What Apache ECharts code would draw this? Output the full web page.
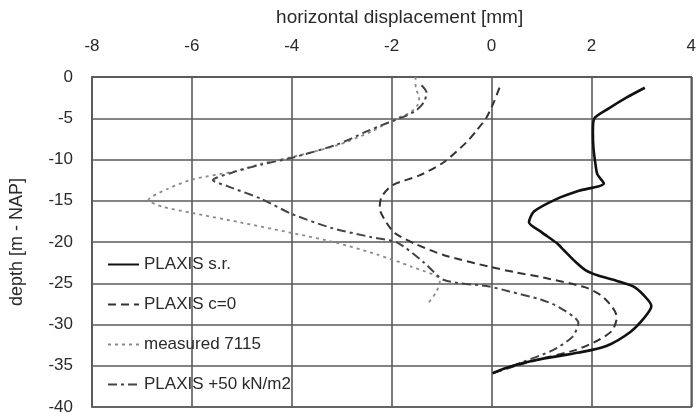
<!DOCTYPE html>
<html>
<head>
<meta charset="utf-8">
<script src="https://cdn.jsdelivr.net/npm/echarts@6/dist/echarts.min.js"></script>
<style>
html,body{margin:0;padding:0;background:#fff;}
#chart{width:699px;height:416px;}
</style>
</head>
<body>
<div id="chart"></div>
<script>
// Axis settings
const xMin = -8, xMax = 4, xStep = 2;
const yMin = -40, yMax = 0, yStep = 5;
const xTitle = 'horizontal displacement [mm]';
const yTitle = 'depth [m - NAP]';

// Series names
const seriesNames = ['PLAXIS s.r.', 'PLAXIS c=0', 'measured 7115', 'PLAXIS +50 kN/m2'];

// PLAXIS s.r.
const srDisp  = [3.07, 2.7, 2.35, 2.06, 2.03, 2.04, 2.08, 2.12, 2.25, 1.75, 1.3, 0.85, 0.75, 1.0, 1.3, 1.45, 1.68, 1.88, 2.15, 2.5, 2.87, 3.13, 3.2, 3.07, 2.78, 2.3, 1.75, 0.89, 0.38, 0.02];
const srDepth = [-1.3, -2.5, -3.8, -5.0, -6.5, -8.5, -10.5, -11.8, -12.9, -13.8, -14.8, -16.3, -17.6, -18.8, -20.1, -21.0, -22.4, -23.4, -24.1, -24.7, -25.5, -27.0, -27.8, -29.1, -30.9, -32.6, -33.4, -34.3, -35.1, -35.9];

// PLAXIS c=0
const c0Disp  = [0.16, 0.05, -0.1, -0.3, -0.5, -0.95, -1.43, -1.98, -2.2, -2.24, -2.15, -1.94, -1.5, -0.95, -0.04, 0.5, 1.03, 1.88, 2.2, 2.42, 2.51, 2.42, 2.14, 1.68, 1.1, 0.5, 0.02];
const c0Depth = [-1.3, -3.0, -4.9, -6.5, -7.9, -10.3, -11.9, -13.1, -14.5, -15.9, -17.2, -18.9, -20.3, -21.6, -23.0, -23.7, -24.3, -25.5, -26.5, -27.9, -29.1, -30.7, -31.9, -33.1, -34.0, -35.0, -35.9];

// measured 7115
const msDisp  = [-1.52, -1.52, -1.45, -1.47, -1.62, -1.94, -2.4, -3.1, -4.0, -4.6, -5.2, -5.98, -6.5, -6.87, -6.6, -5.98, -5.05, -4.0, -3.1, -2.3, -1.6, -1.03, -1.1, -1.29];
const msDepth = [0.0, -1.3, -2.4, -3.3, -4.3, -5.1, -6.6, -8.3, -9.7, -10.5, -11.5, -12.4, -13.6, -14.9, -15.7, -16.5, -17.6, -18.9, -20.1, -21.5, -23.0, -24.6, -26.0, -27.6];

// PLAXIS +50 kN/m2
const p50Disp  = [-1.4, -1.3, -1.35, -1.5, -1.75, -2.1, -2.5, -3.1, -4.0, -4.6, -5.2, -5.58, -5.3, -4.6, -4.0, -3.2, -2.42, -1.88, -1.35, -0.95, -0.04, 0.36, 1.0, 1.35, 1.74, 1.62, 1.23, 0.6, 0.02];
const p50Depth = [-1.0, -1.9, -3.0, -4.0, -4.8, -5.6, -6.6, -8.2, -9.8, -10.6, -11.6, -12.5, -13.2, -14.8, -16.6, -18.3, -19.4, -20.1, -22.5, -24.6, -25.4, -26.0, -27.0, -27.9, -29.8, -31.5, -33.1, -34.6, -35.9];

function pairs(xs, ys) { return xs.map((x, i) => [x, ys[i]]); }

const textColor = '#2a2a2a';
const gridColor = '#5a5a5a';
const fontFam = '"Liberation Sans", Arial, sans-serif';

const chart = echarts.init(document.getElementById('chart'), null, {renderer: 'canvas'});
chart.setOption({
  animation: false,
  backgroundColor: '#fff',
  grid: {left: 91, right: 2, top: 77, bottom: 9, show: true, borderColor: gridColor, borderWidth: 1.6},
  xAxis: {
    type: 'value', position: 'top', min: xMin, max: xMax, interval: xStep,
    name: xTitle, nameLocation: 'middle', nameGap: 50,
    nameTextStyle: {fontSize: 19, color: textColor, fontFamily: fontFam, padding: [0, 0, 0, 16]},
    axisLine: {show: true, onZero: false, lineStyle: {color: gridColor, width: 1.6}},
    axisTick: {show: false},
    axisLabel: {fontSize: 17, color: textColor, fontFamily: fontFam, margin: 22},
    splitLine: {show: true, lineStyle: {color: gridColor, width: 1.6}}
  },
  yAxis: {
    type: 'value', min: yMin, max: yMax, interval: yStep,
    name: yTitle, nameLocation: 'middle', nameGap: 66,
    nameTextStyle: {fontSize: 18, color: textColor, fontFamily: fontFam},
    axisLine: {show: true, onZero: false, lineStyle: {color: gridColor, width: 1.6}},
    axisTick: {show: false},
    axisLabel: {fontSize: 17, color: textColor, fontFamily: fontFam, margin: 19},
    splitLine: {show: true, lineStyle: {color: gridColor, width: 1.6}}
  },
  legend: {
    orient: 'vertical', left: 107, top: 256, padding: 0,
    itemWidth: 31, itemHeight: 14, itemGap: 23,
    itemStyle: {color: 'transparent', borderColor: 'transparent', borderWidth: 0},
    textStyle: {fontSize: 17, color: textColor, fontFamily: fontFam, lineHeight: 17},
    data: seriesNames
  },
  series: [
    {name: seriesNames[0], type: 'line', data: pairs(srDisp, srDepth), symbol: 'none', smooth: 0.25,
     lineStyle: {color: '#111', width: 2.6, type: 'solid'}, itemStyle: {color: '#111'}, z: 5},
    {name: seriesNames[1], type: 'line', data: pairs(c0Disp, c0Depth), symbol: 'none', smooth: 0.25,
     lineStyle: {color: '#333', width: 2, type: [8, 5]}, itemStyle: {color: '#333'}, z: 4},
    {name: seriesNames[2], type: 'line', data: pairs(msDisp, msDepth), symbol: 'none', smooth: 0.25,
     lineStyle: {color: '#8a8a8a', width: 1.8, type: [3, 4]}, itemStyle: {color: '#8a8a8a'}, z: 3},
    {name: seriesNames[3], type: 'line', data: pairs(p50Disp, p50Depth), symbol: 'none', smooth: 0.25,
     lineStyle: {color: '#444', width: 2, type: [9, 4, 3, 4]}, itemStyle: {color: '#444'}, z: 4}
  ]
});
</script>
</body>
</html>
